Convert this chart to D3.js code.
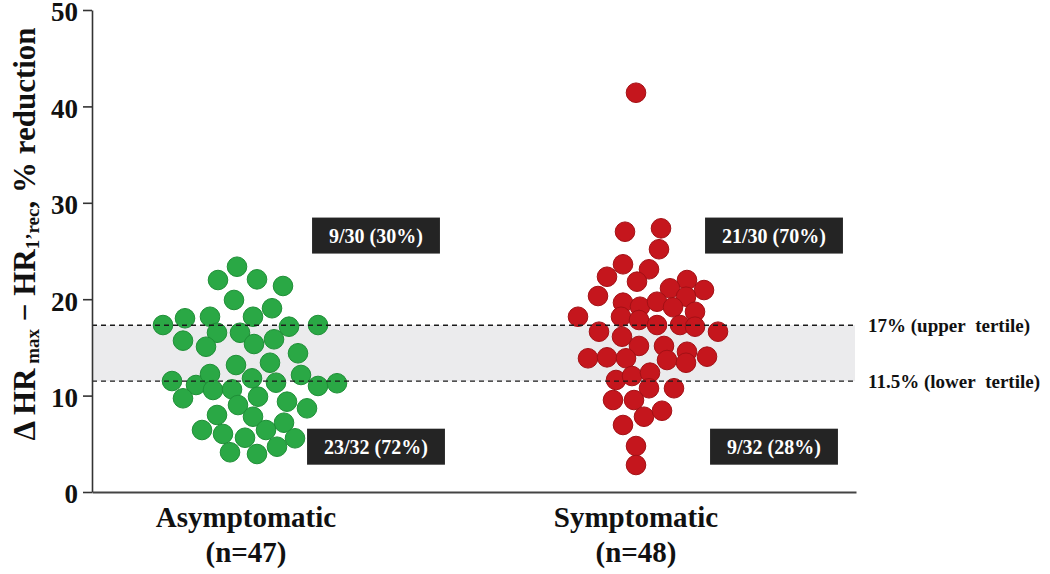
<!DOCTYPE html>
<html>
<head>
<meta charset="utf-8">
<script src="https://cdn.jsdelivr.net/npm/d3@7"></script>
<style>
  html, body { margin: 0; padding: 0; background: #fff; }
  svg { display: block; }
  text { font-family: "Liberation Serif", "Times New Roman", serif; font-weight: bold; }
</style>
</head>
<body>
<svg id="chart" width="1050" height="574"></svg>
<script>
// ---------- DATA ----------
const categories = ["Asymptomatic", "Symptomatic"];
const categoryCounts = ["(n=47)", "(n=48)"];
const yTicks = [0, 10, 20, 30, 40, 50];

// Asymptomatic: % reduction values and horizontal jitter (-1..1)
const asymValues = [23.37, 21.99, 22.06, 21.37, 19.92, 19.06, 18.02, 18.18, 18.18, 17.32,
  17.15, 17.32, 16.52, 16.52, 15.70, 15.07, 15.35, 15.84, 14.39, 13.17,
  13.41, 12.14, 11.51, 11.10, 12.24, 10.58, 10.65, 11.79, 11.34, 11.00,
  11.28, 9.72, 9.89, 9.02, 9.37, 8.68, 7.99, 7.81, 7.19, 6.43,
  6.02, 5.63, 6.43, 5.57, 4.12, 3.94, 4.70];
const asymJitter = [-0.13, -0.32, 0.07, 0.33, -0.16, 0.22, -0.65, -0.40, 0.03, -0.87,
  0.39, 0.68, -0.33, -0.10, -0.67, -0.44, 0.04, 0.24, 0.48, -0.14,
  0.20, 0.51, -0.78, -0.54, -0.40, -0.37, -0.18, 0.02, 0.26, 0.68,
  0.87, -0.67, 0.08, -0.12, 0.37, 0.57, -0.33, 0.03, 0.34, -0.48,
  -0.27, -0.05, 0.16, 0.45, -0.20, 0.07, 0.27];

// Symptomatic
const symValues = [41.42, 27.00, 27.35, 25.18, 23.62, 23.10, 22.33, 21.82, 21.99, 21.13,
  20.95, 20.33, 20.26, 19.64, 19.22, 19.74, 19.16, 18.70, 18.18, 18.18,
  17.84, 17.32, 17.32, 17.15, 16.63, 16.63, 16.11, 15.15, 15.15, 14.55,
  13.87, 13.97, 13.87, 13.69, 13.41, 14.04, 11.62, 12.03, 12.38, 10.76,
  10.76, 9.54, 9.54, 7.81, 8.43, 6.95, 4.77, 2.80];
const symJitter = [-0.12, -0.23, 0.13, 0.11, -0.25, 0.01, -0.41, -0.11, 0.39, 0.22,
  0.56, -0.50, 0.38, -0.25, -0.08, 0.09, 0.25, 0.47, -0.70, -0.27,
  -0.09, 0.09, 0.32, 0.47, 0.70, -0.49, -0.26, -0.09, 0.16, 0.39,
  -0.60, -0.41, -0.22, 0.19, 0.38, 0.59, -0.32, -0.16, 0.02, 0.01,
  0.26, -0.35, -0.14, -0.04, 0.14, -0.25, -0.12, -0.12];

// tertile lines (positions as drawn) and their labels
const tertileValues = [17.3, 11.5];
const tertileLabels = ["17% (upper\u00A0 tertile)", "11.5% (lower\u00A0 tertile)"];

// count boxes: upper (above upper tertile) and lower (below lower tertile)
const upperBoxLabels = ["9/30 (30%)", "21/30 (70%)"];
const lowerBoxLabels = ["23/32 (72%)", "9/32 (28%)"];
const boxValues = [26.6, 4.7];

const colors = ["#2aa845", "#c5161d"];
const strokes = ["#1f8f37", "#a31015"];

// ---------- LAYOUT ----------
const svg = d3.select("#chart");
svg.append("rect").attr("width", 1050).attr("height", 574).attr("fill", "#fff");

const plotLeft = 92, plotRight = 856, plotTop = 10, plotBottom = 492;
const y = d3.scaleLinear().domain([0, 50]).range([plotBottom, plotTop]);
const xAxisScale = d3.scaleLinear().domain([0, 1]).range([plotLeft, plotRight]);
const xGroup = d3.scalePoint().domain(categories).range([250, 648]);
const xLabel = d3.scalePoint().domain(categories).range([246, 636]);
const jitter = d3.scaleLinear().domain([-1, 1]).range([-100, 100]);
const r = 9.8;

// tertile band
const bandRight = 855;
svg.append("rect")
  .attr("x", plotLeft).attr("width", bandRight - plotLeft)
  .attr("y", y(tertileValues[0]))
  .attr("height", y(tertileValues[1]) - y(tertileValues[0]))
  .attr("fill", "#ebebed");

// dots
const groups = [
  { cat: categories[0], values: asymValues, jit: asymJitter },
  { cat: categories[1], values: symValues, jit: symJitter }
];
groups.forEach((g, gi) => {
  const pts = g.values.map((v, i) => ({ v, j: g.jit[i] }));
  svg.append("g").selectAll("circle").data(pts).join("circle")
    .attr("cx", d => xGroup(g.cat) + jitter(d.j))
    .attr("cy", d => y(d.v))
    .attr("r", r)
    .attr("fill", colors[gi])
    .attr("stroke", strokes[gi])
    .attr("stroke-width", 1);
});

// dashed tertile lines
svg.append("g").selectAll("line").data(tertileValues).join("line")
  .attr("x1", plotLeft).attr("x2", bandRight)
  .attr("y1", d => y(d)).attr("y2", d => y(d))
  .attr("stroke", "#1a1a1a").attr("stroke-width", 1.4)
  .attr("stroke-dasharray", "5,4");

svg.append("g").selectAll("text").data(tertileValues).join("text")
  .attr("x", 868).attr("y", d => y(d)).attr("dy", "0.36em")
  .attr("font-size", 19).attr("fill", "#111")
  .text((d, i) => tertileLabels[i]);

// axes
const yAxis = d3.axisLeft(y).tickValues(yTicks).tickSize(9).tickSizeOuter(0).tickPadding(5);
const yg = svg.append("g").attr("transform", `translate(${plotLeft},0)`).call(yAxis);
yg.select(".domain").attr("stroke", "#333").attr("stroke-width", 1.6);
yg.selectAll(".tick line").attr("stroke", "#333").attr("stroke-width", 1.6);
yg.selectAll(".tick text")
  .attr("font-family", "'Liberation Serif', 'Times New Roman', serif")
  .attr("font-weight", "bold").attr("font-size", 27).attr("fill", "#111")
  .attr("dy", "0.4em");

const xAxis = d3.axisBottom(xAxisScale).tickValues([]).tickSizeOuter(0);
const xg = svg.append("g").attr("transform", `translate(0,${plotBottom})`).call(xAxis);
xg.select(".domain").attr("stroke", "#444").attr("stroke-width", 2);

// category labels
svg.append("g").selectAll("text").data(categories).join("text")
  .attr("x", d => xLabel(d)).attr("y", 527)
  .attr("text-anchor", "middle").attr("font-size", 29).attr("fill", "#111")
  .text(d => d);
svg.append("g").selectAll("text").data(categoryCounts).join("text")
  .attr("x", (d, i) => xLabel(categories[i])).attr("y", 562)
  .attr("text-anchor", "middle").attr("font-size", 29).attr("fill", "#111")
  .text(d => d);

// count boxes
function drawBox(label, cx, cy) {
  const g = svg.append("g");
  const t = g.append("text").attr("x", cx).attr("y", cy).attr("dy", "0.35em")
    .attr("text-anchor", "middle").attr("font-size", 20).attr("fill", "#fff").text(label);
  const bb = t.node().getBBox();
  g.insert("rect", "text")
    .attr("x", cx - (bb.width + 34) / 2).attr("y", cy - 18)
    .attr("width", bb.width + 34).attr("height", 36)
    .attr("fill", "#242424");
}
categories.forEach((c, i) => {
  const cx = xGroup(c) + 126;
  drawBox(upperBoxLabels[i], cx, y(boxValues[0]));
  drawBox(lowerBoxLabels[i], cx, y(boxValues[1]));
});

// y-axis title
const yt = svg.append("text")
  .attr("transform", "translate(35,234) rotate(-90)")
  .attr("text-anchor", "middle").attr("font-size", 31).attr("fill", "#111");
yt.append("tspan").text("\u0394 HR");
yt.append("tspan").attr("font-size", 19).attr("dy", 4).text(" max");
yt.append("tspan").attr("dy", -4).text(" \u2212 HR");
yt.append("tspan").attr("font-size", 19).attr("dy", 4).text("1\u2019rec");
yt.append("tspan").attr("dy", -4).text(", % reduction");
</script>
</body>
</html>
